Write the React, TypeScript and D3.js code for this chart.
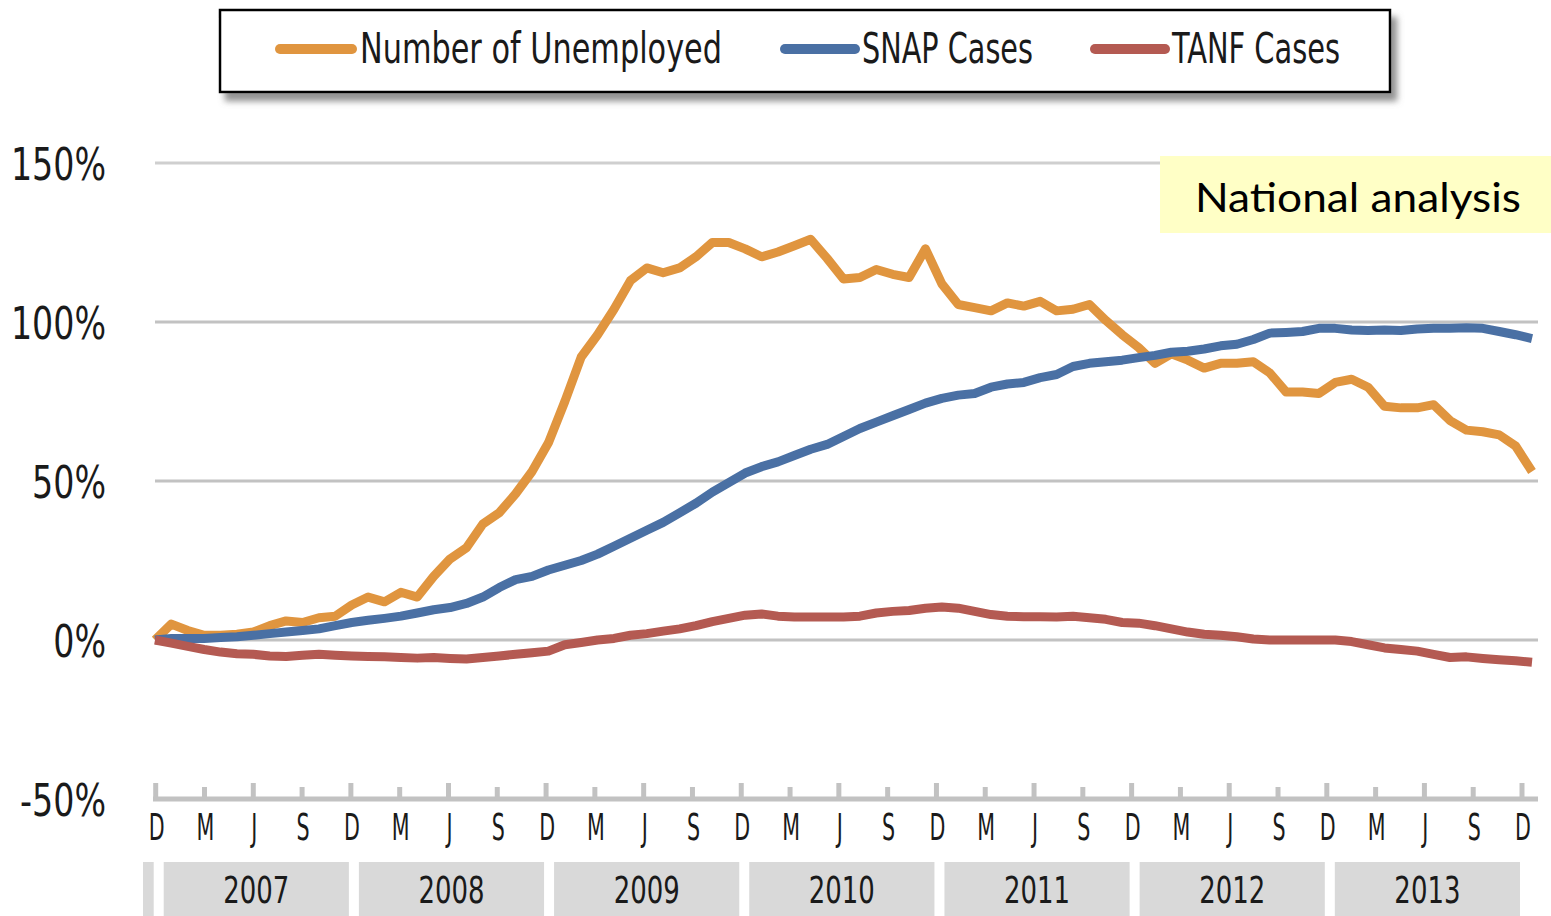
import React from "react";
import * as d3 from "d3";

const years = ["2007", "2008", "2009", "2010", "2011", "2012", "2013"];
const quarterLabels = [
  "D", "M", "J", "S", "D", "M", "J", "S", "D", "M", "J", "S", "D", "M", "J", "S",
  "D", "M", "J", "S", "D", "M", "J", "S", "D", "M", "J", "S", "D",
];
const yTicks = [150, 100, 50, 0, -50];
const seriesNames = ["Number of Unemployed", "SNAP Cases", "TANF Cases"];
const seriesColors = ["#E0953F", "#4A70A4", "#B45A52"];

// Monthly % change since Dec 2006 (Dec 2006 .. Dec 2013)
const unemployed = [
  0, 5, 3, 1.5, 1.5, 1.8, 2.5, 4.5, 6, 5.5, 7, 7.5,
  11, 13.5, 12, 15, 13.5, 20, 25.5, 29, 36.5, 40, 46, 53,
  62, 75, 89, 96, 104, 113, 117, 115.5, 117, 120.5, 125, 125,
  123, 120.5, 122, 124, 126, 120, 113.5, 114, 116.5, 115, 114, 123,
  112, 105.5, 104.5, 103.5, 106, 105, 106.5, 103.5, 104, 105.5, 100.5, 96,
  92, 87, 90, 88, 85.5, 87, 87, 87.5, 84, 78, 78, 77.5,
  81, 82, 79.5, 73.5, 73, 73, 74, 69, 66, 65.5, 64.5, 61,
  53,
];
const snap = [
  0, 0.5, 0.5, 0.5, 0.8, 1, 1.5, 2, 2.5, 3, 3.5, 4.5,
  5.5, 6.2, 6.8, 7.5, 8.5, 9.5, 10.2, 11.5, 13.5, 16.5, 19, 20,
  22, 23.5, 25, 27, 29.5, 32, 34.5, 37, 40, 43, 46.5, 49.5,
  52.5, 54.5, 56, 58, 60, 61.5, 64, 66.5, 68.5, 70.5, 72.5, 74.5,
  76, 77, 77.5, 79.5, 80.5, 81, 82.5, 83.5, 86, 87, 87.5, 88,
  88.8, 89.5, 90.5, 90.8, 91.5, 92.5, 93, 94.5, 96.5, 96.7, 97, 98,
  98, 97.5, 97.3, 97.5, 97.3, 97.8, 98, 98, 98.2, 98, 97, 96,
  94.8,
];
const tanf = [
  0, -1, -2, -3, -3.8, -4.3, -4.5, -5, -5.2, -4.8, -4.5, -4.8,
  -5, -5.2, -5.3, -5.5, -5.7, -5.5, -5.8, -6, -5.5, -5, -4.5, -4,
  -3.5, -1.5, -0.8, 0, 0.5, 1.5, 2, 2.8, 3.5, 4.5, 5.8, 6.8,
  7.8, 8.2, 7.5, 7.2, 7.2, 7.2, 7.2, 7.5, 8.5, 9, 9.3, 10,
  10.4, 10, 9, 8, 7.5, 7.3, 7.3, 7.2, 7.5, 7, 6.5, 5.5,
  5.3, 4.5, 3.5, 2.5, 1.8, 1.5, 1, 0.3, 0, 0, 0, 0,
  0, -0.5, -1.5, -2.5, -3, -3.5, -4.5, -5.5, -5.3, -5.8, -6.2, -6.5,
  -7,
];
const series = [unemployed, snap, tanf];

const narrow = "'DejaVu Sans Condensed', 'DejaVu Sans', sans-serif";

function NText(props: {
  x: number;
  y: number;
  sx: number;
  size: number;
  anchor?: string;
  children: React.ReactNode;
}) {
  const { x, y, sx, size, anchor, children } = props;
  return (
    <text
      transform={`translate(${x},${y}) scale(${sx},1)`}
      x={0}
      y={0}
      textAnchor={anchor || "start"}
      fontFamily={narrow}
      fontSize={size}
      fill="#1a1a1a"
    >
      {children}
    </text>
  );
}

export default function App() {
  const W = 1551;
  const H = 916;
  const y = d3.scaleLinear().domain([-50, 150]).range([799, 163]);
  const xm = d3.scaleLinear().domain([0, unemployed.length - 1]).range([155, 1532]);
  const xq = d3.scaleLinear().domain([0, quarterLabels.length - 1]).range([155.7, 1522]);
  const line = d3
    .line<number>()
    .x((_, i) => xm(i))
    .y((d) => y(d));

  const legendItems = [
    { x0: 280, x1: 352, tx: 360, tw: 362 },
    { x0: 785, x1: 855, tx: 862, tw: 171 },
    { x0: 1095, x1: 1165, tx: 1172, tw: 168 },
  ];

  const yearBoxes = ["", ...years].map((label, k) => {
    const x0 = Math.max(143, xq(4 * (k - 1)) + 8);
    const x1 = xq(4 * k) - 2;
    return { label, x0, x1 };
  });

  return (
    <svg
      width={W}
      height={H}
      style={{ position: "absolute", left: 0, top: 0, background: "#fff" }}
    >
      <defs>
        <filter id="shadow" x="-5%" y="-20%" width="115%" height="160%">
          <feDropShadow dx="6" dy="8" stdDeviation="3" floodColor="#777" floodOpacity="0.8" />
        </filter>
      </defs>
      <rect width={W} height={H} fill="#fff" />

      {/* gridlines */}
      {yTicks
        .filter((t) => t !== -50)
        .map((t) => (
          <line
            key={t}
            x1={155}
            x2={1538}
            y1={y(t)}
            y2={y(t)}
            stroke={t === 150 ? "#cfcfcf" : "#c2c2c2"}
            strokeWidth={3}
          />
        ))}

      {/* bottom axis line with ticks */}
      <line x1={153} x2={1538} y1={y(-50)} y2={y(-50)} stroke="#c2c2c2" strokeWidth={5} />
      {quarterLabels.map((lab, q) => (
        <line
          key={"t" + q}
          x1={xq(q)}
          x2={xq(q)}
          y1={y(-50)}
          y2={y(-50) - (q % 2 === 0 ? 16 : 12)}
          stroke="#c2c2c2"
          strokeWidth={5}
        />
      ))}

      {/* y labels */}
      {yTicks.map((t) => (
        <NText key={"yl" + t} x={106} y={y(t) + 17} sx={0.84} size={44} anchor="end">
          {t + "%"}
        </NText>
      ))}

      {/* quarter labels */}
      {quarterLabels.map((lab, q) => (
        <NText key={"ql" + q} x={xq(q) + 1} y={840} sx={0.62} size={37} anchor="middle">
          {lab}
        </NText>
      ))}

      {/* year boxes */}
      {yearBoxes.map((b, k) => (
        <g key={"yb" + k}>
          <rect x={b.x0} y={862} width={b.x1 - b.x0} height={H - 862} fill="#d9d9d9" />
          {b.label && (
            <NText x={(b.x0 + b.x1) / 2} y={903} sx={0.76} size={38} anchor="middle">
              {b.label}
            </NText>
          )}
        </g>
      ))}

      {/* series lines */}
      {series.map((s, k) => (
        <path
          key={"s" + k}
          d={line(s) || ""}
          fill="none"
          stroke={seriesColors[k]}
          strokeWidth={9}
          strokeLinejoin="round"
          strokeLinecap="butt"
        />
      ))}

      {/* National analysis box */}
      <rect x={1160} y={156} width={W - 1160} height={77} fill="#FFFFC6" />
      <text
        x={1195}
        y={212}
        fontFamily="Lato, 'Open Sans', sans-serif"
        fontSize={40}
        fill="#000"
        textLength={326}
        lengthAdjust="spacingAndGlyphs"
      >
        National analysis
      </text>

      {/* legend */}
      <rect
        x={220}
        y={10}
        width={1170}
        height={82}
        fill="#fff"
        stroke="#000"
        strokeWidth={2.5}
        filter="url(#shadow)"
      />
      {seriesNames.map((name, k) => {
        const li = legendItems[k];
        return (
          <g key={"lg" + k}>
            <line
              x1={li.x0}
              x2={li.x1}
              y1={49}
              y2={49}
              stroke={seriesColors[k]}
              strokeWidth={10}
              strokeLinecap="round"
            />
            <text
              x={li.tx}
              y={63}
              fontFamily={narrow}
              fontSize={42}
              fill="#1a1a1a"
              textLength={li.tw}
              lengthAdjust="spacingAndGlyphs"
            >
              {name}
            </text>
          </g>
        );
      })}
    </svg>
  );
}
